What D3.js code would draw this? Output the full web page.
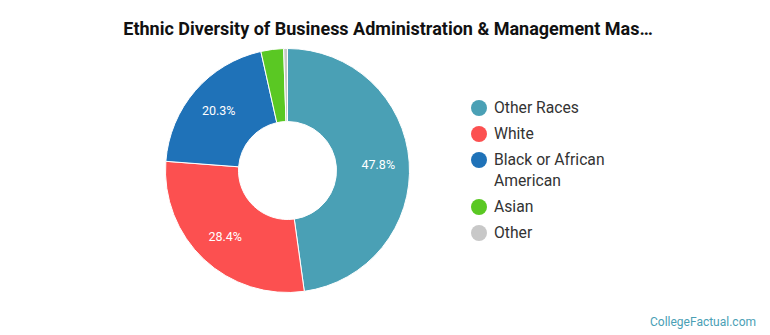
<!DOCTYPE html>
<html>
<head>
<meta charset="utf-8">
<script src="https://cdn.jsdelivr.net/npm/d3@7"></script>
<style>
  html, body { margin: 0; padding: 0; background: #fff; }
  svg { display: block; font-family: Roboto, "Noto Sans", sans-serif; }
</style>
</head>
<body>
<svg id="chart" width="770" height="335"></svg>
<script>
const title = "Ethnic Diversity of Business Administration & Management Mas…";
const categories = ["Other Races", "White", "Black or African American", "Asian", "Other"];
const values = [47.8, 28.4, 20.3, 3.0, 0.5];
const colors = ["#4aa0b5", "#fc5050", "#1f72b8", "#5ac823", "#c8c8c8"];
const legendLines = [["Other Races"], ["White"], ["Black or African", "American"], ["Asian"], ["Other"]];
const credit = "CollegeFactual.com";

const svg = d3.select("#chart");
const cx = 287.5, cy = 170.5, outerR = 122, innerR = 49, labelR = 91;

svg.append("text")
  .attr("x", 388).attr("y", 35)
  .attr("text-anchor", "middle")
  .attr("font-size", 18).attr("font-weight", "bold").attr("fill", "#111")
  .text(title);

const data = categories.map((c, i) => ({ name: c, value: values[i], color: colors[i] }));
const pie = d3.pie().sort(null).value(d => d.value);
const arcs = pie(data);
const arc = d3.arc().innerRadius(innerR).outerRadius(outerR);
const labelArc = d3.arc().innerRadius(labelR).outerRadius(labelR);

const g = svg.append("g").attr("transform", `translate(${cx},${cy})`);
g.selectAll("path").data(arcs).join("path")
  .attr("d", arc)
  .attr("fill", d => d.data.color)
  .attr("stroke", "#fff").attr("stroke-width", 1);

g.selectAll("text.lbl").data(arcs.filter(d => d.data.value >= 10)).join("text")
  .attr("class", "lbl")
  .attr("transform", d => `translate(${labelArc.centroid(d)})`)
  .attr("text-anchor", "middle").attr("dy", "0.35em")
  .attr("font-size", 12.5).attr("fill", "#fff")
  .text(d => d.data.value.toFixed(1) + "%");

// legend
const lg = svg.append("g");
let y = 108;
legendLines.forEach((lines, i) => {
  lg.append("circle").attr("cx", 479).attr("cy", y).attr("r", 8).attr("fill", colors[i]);
  lines.forEach((ln, j) => {
    lg.append("text").attr("x", 494).attr("y", y + j * 21).attr("dy", "0.35em")
      .attr("font-size", 15.7).attr("fill", "#333").text(ln);
  });
  y += 26 + (lines.length - 1) * 21;
});

svg.append("text")
  .attr("x", 756).attr("y", 326)
  .attr("text-anchor", "end")
  .attr("font-size", 12).attr("fill", "#4aa0b5")
  .text(credit);
</script>
</body>
</html>
